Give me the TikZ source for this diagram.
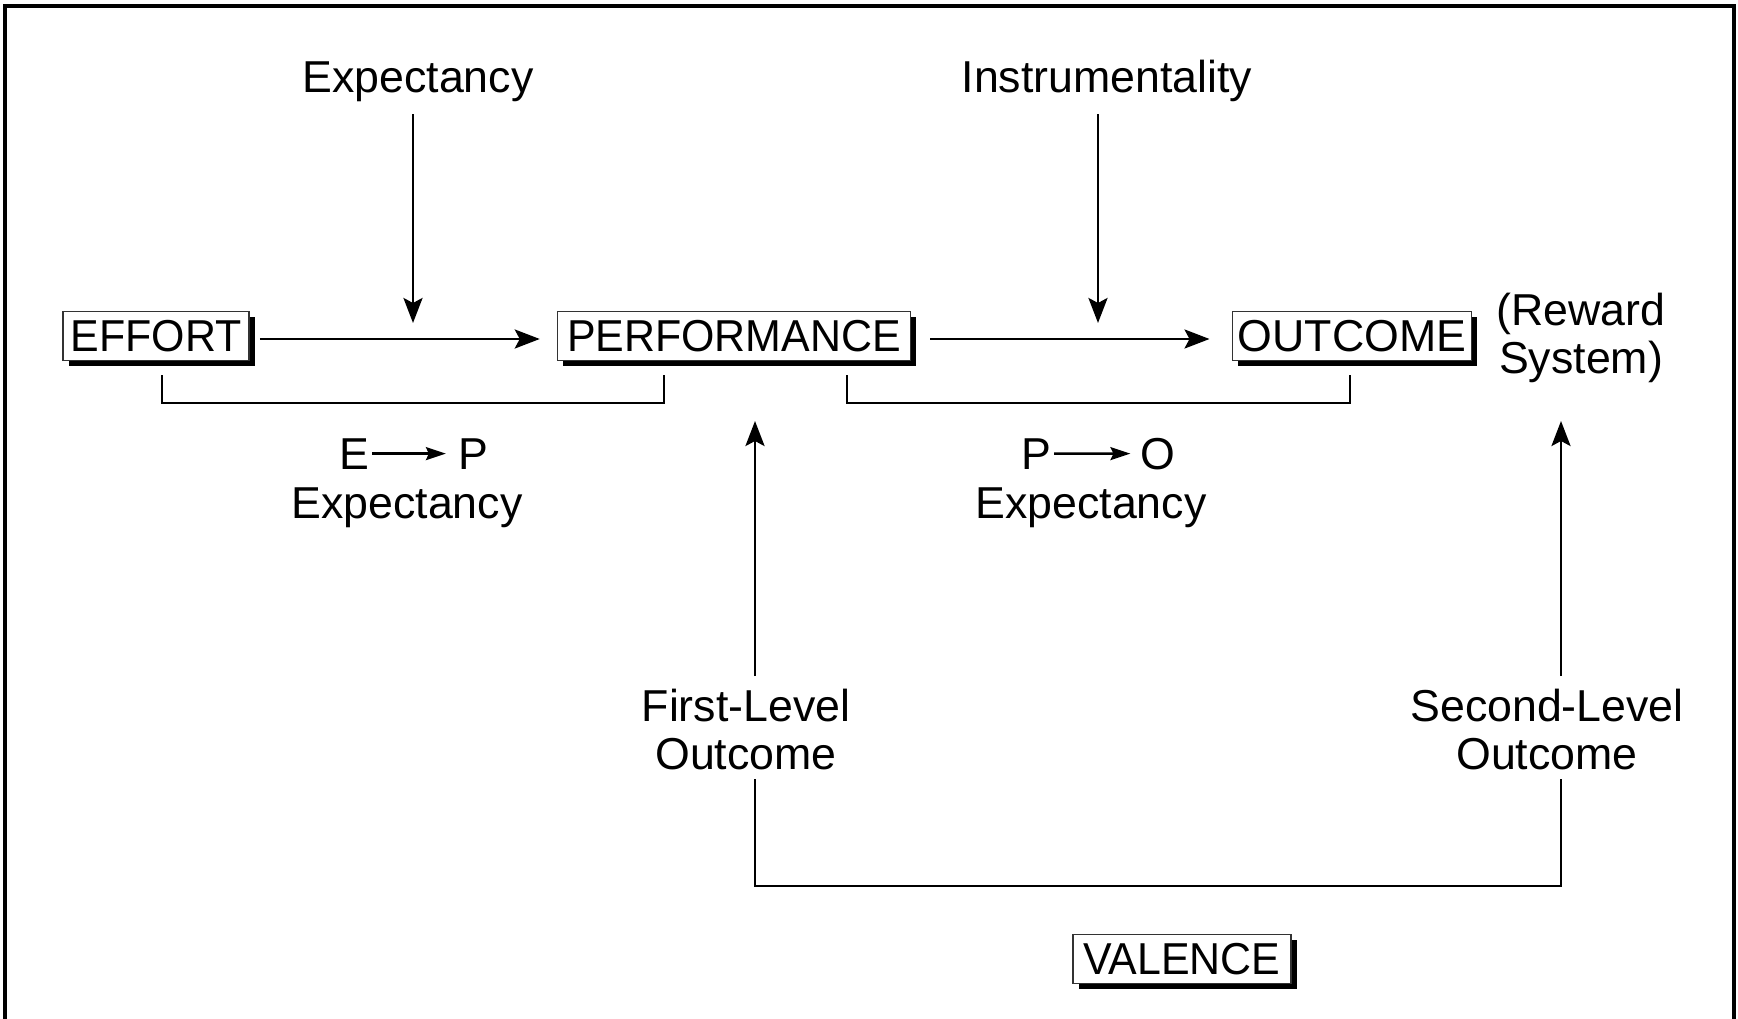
\documentclass[tikz,border=0pt]{standalone}
\usepackage{fontspec}
\setmainfont{Liberation Sans}
\newfontfamily\boxfont[FakeStretch=0.96]{Liberation Sans}
\usetikzlibrary{arrows.meta,shadows}

\begin{document}
\begin{tikzpicture}[x=1pt,y=-1pt,
  lbl/.style={font=\fontsize{44.7}{48}\selectfont, align=center, inner sep=0pt},
  box/.style={lbl, font=\boxfont\fontsize{44.7}{48}\selectfont,
    draw=black!80, line width=1.5pt, fill=white, inner xsep=3.5pt,
    minimum height=49pt,
    drop shadow={shadow xshift=5.5pt, shadow yshift=-5.5pt, fill=black, opacity=1}},
  link/.style={line width=2.8pt},
  arr/.style={link, -{Stealth[length=25pt,width=19pt,inset=5pt]}},
  smallarr/.style={line width=2.4pt, -{Stealth[length=20pt,width=13pt,inset=3pt]}}]

\useasboundingbox (0,0) rectangle (1738,1019);
\draw[line width=4.5pt] (5,6) rectangle (1734,1060);

% main chain
\node[box, minimum width=186pt] (effort) at (156,336) {EFFORT};
\node[box, minimum width=353pt] (perf) at (734,336) {PERFORMANCE};
\node[box, font=\fontsize{44.7}{48}\selectfont, inner xsep=5.5pt] (outcome) at (1352,336) {OUTCOME};
\node[box, minimum width=218pt] (valence) at (1182,959) {VALENCE};

% labels (multi-line labels sit on the baseline of their last line)
\node[lbl, anchor=base] (expect) at (418,93) {Expectancy};
\node[lbl, anchor=base] (instr) at (1107,93) {Instrumentality};
\node[lbl, anchor=base] (reward) at (1581,373) {(Reward\\System)};
\node[lbl, anchor=base] (first) at (746,769) {First-Level\\Outcome};
\node[lbl, anchor=base] (second) at (1547,769) {Second-Level\\Outcome};

\node[lbl, anchor=base] (e1) at (354,469) {E};
\node[lbl, anchor=base] (p1) at (473,469) {P};
\node[lbl, anchor=base] (epx) at (407,518) {Expectancy};
\node[lbl, anchor=base] (p2) at (1036,469) {P};
\node[lbl, anchor=base] (o2) at (1158,469) {O};
\node[lbl, anchor=base] (pox) at (1091,518) {Expectancy};

% junction points
\coordinate (epmid) at (413,339);
\coordinate (pomid) at (1098,339);
\coordinate (ep1) at (162,375);
\coordinate (ep2) at (664,375);
\coordinate (po1) at (847,375);
\coordinate (po2) at (1350,375);
\coordinate (firsttop) at (755,676);
\coordinate (firstend) at (755,421);
\coordinate (firstbot) at (755,779);
\coordinate (secondtop) at (1561,676);
\coordinate (secondend) at (1561,421);
\coordinate (secondbot) at (1561,779);

% horizontal arrows
\draw[arr, shorten <=10pt, shorten >=17pt] (effort.east |- epmid) -- (perf.west |- epmid);
\draw[arr, shorten <=19pt, shorten >=22pt] (perf.east |- pomid) -- (outcome.west |- pomid);

% arrows from the top labels
\draw[arr, shorten <=12pt, shorten >=16pt] (expect.south -| epmid) -- (epmid);
\draw[arr, shorten <=12pt, shorten >=16pt] (instr.south -| pomid) -- (pomid);

% brackets
\draw[link] (ep1) -- ++(0,28) -| (ep2);
\draw[link] (po1) -- ++(0,28) -| (po2);

% inline arrows
\draw[smallarr, shorten <=3pt, shorten >=12pt] (e1.east) -- (p1.west);
\draw[smallarr, shorten <=3pt, shorten >=10pt] (p2.east) -- (o2.west);

% outcome levels
\draw[arr] (firsttop) -- (firstend);
\draw[arr] (secondtop) -- (secondend);
\draw[link] (firstbot) -- ++(0,107) -| (secondbot);

\end{tikzpicture}
\end{document}
